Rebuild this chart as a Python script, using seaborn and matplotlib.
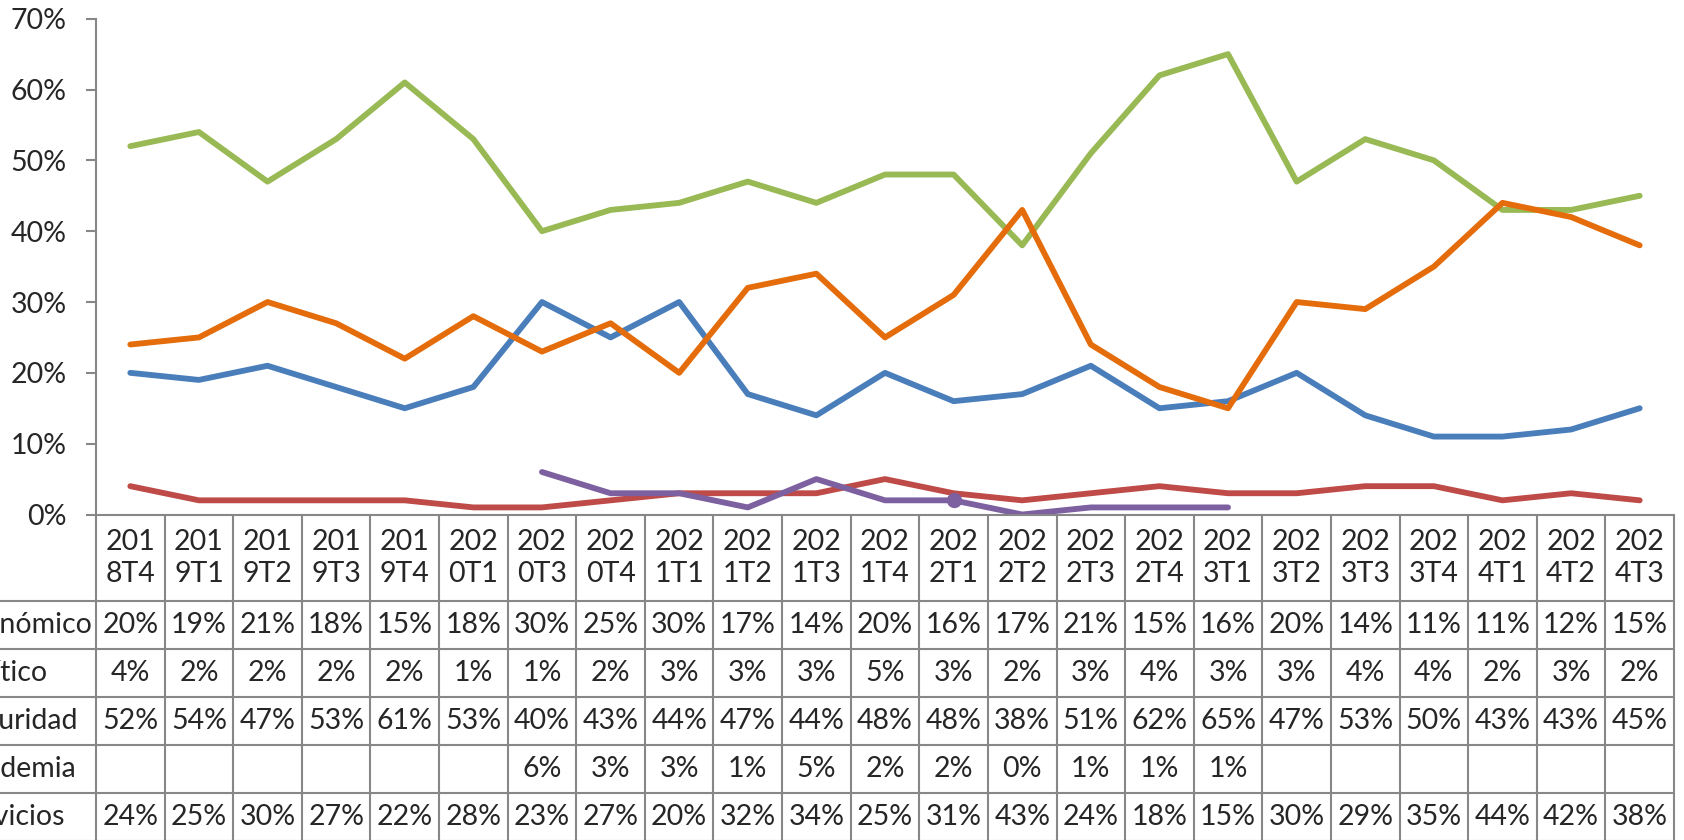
import numpy as np
import pandas as pd
import matplotlib
matplotlib.use("Agg")
import matplotlib.pyplot as plt
import matplotlib.transforms as mtransforms
from matplotlib.ticker import PercentFormatter
import seaborn as sns

#------------------data-------------------
periods = ["2018T4", "2019T1", "2019T2", "2019T3", "2019T4", "2020T1", "2020T3",
           "2020T4", "2021T1", "2021T2", "2021T3", "2021T4", "2022T1", "2022T2",
           "2022T3", "2022T4", "2023T1", "2023T2", "2023T3", "2023T4", "2024T1",
           "2024T2", "2024T3"]
economico = [20, 19, 21, 18, 15, 18, 30, 25, 30, 17, 14, 20, 16, 17, 21, 15, 16, 20, 14, 11, 11, 12, 15]
politico = [4, 2, 2, 2, 2, 1, 1, 2, 3, 3, 3, 5, 3, 2, 3, 4, 3, 3, 4, 4, 2, 3, 2]
seguridad = [52, 54, 47, 53, 61, 53, 40, 43, 44, 47, 44, 48, 48, 38, 51, 62, 65, 47, 53, 50, 43, 43, 45]
pandemia = [None] * 6 + [6, 3, 3, 1, 5, 2, 2, 0, 1, 1, 1] + [None] * 6
servicios = [24, 25, 30, 27, 22, 28, 23, 27, 20, 32, 34, 25, 31, 43, 24, 18, 15, 30, 29, 35, 44, 42, 38]

series_names = ["Económico", "Político", "Seguridad", "Pandemia", "Servicios"]
series_values = [economico, politico, seguridad, pandemia, servicios]
colors = ["#4A7EBB", "#BE4B48", "#98B954", "#7D60A0", "#E46C0A"]
marked_period = "2022T1"   # single marker on Pandemia

rows = []
for name, vals in zip(series_names, series_values):
    for i, v in enumerate(vals):
        rows.append({"idx": i, "serie": name, "valor": np.nan if v is None else v / 100})
df = pd.DataFrame(rows)

#------------------figure-------------------
W, H = 1684, 840
sns.set_style("white")
plt.rcParams["font.family"] = ["Lato", "DejaVu Sans"]
FS = 20.5
grey = "#878787"

fig = plt.figure(figsize=(W / 100, H / 100), dpi=100)
ax_l, ax_r, ax_t, ax_b = 96, 1674, 18.7, 514.5
ax = fig.add_axes([ax_l / W, 1 - ax_b / H, (ax_r - ax_l) / W, (ax_b - ax_t) / H])

sns.lineplot(data=df, x="idx", y="valor", hue="serie", hue_order=series_names,
             palette=colors, linewidth=4.2, legend=False, ax=ax, sort=False)
for ln in ax.lines:
    ln.set_solid_capstyle("round")
    ln.set_solid_joinstyle("round")

# marker on Pandemia
mi = periods.index(marked_period)
ax.plot(mi, pandemia[mi] / 100, "o", color=colors[3], markersize=10)

ax.set_xlim(-0.5, len(periods) - 0.5)
ax.set_ylim(0, 0.70)
ax.set_yticks(np.arange(0, 0.71, 0.1))
ax.yaxis.set_major_formatter(PercentFormatter(1.0, decimals=0))
ax.set_xticks([])
ax.set_xlabel("")
ax.set_ylabel("")
ax.tick_params(axis="y", length=7, width=1.5, color=grey, pad=14, labelsize=FS, left=True)
for s in ["top", "right"]:
    ax.spines[s].set_visible(False)
for s in ["left", "bottom"]:
    ax.spines[s].set_color(grey)
    ax.spines[s].set_linewidth(1.5)

#------------------data table-------------------
def fy(py):
    return 1 - py / H

tr = mtransforms.blended_transform_factory(ax.transData, fig.transFigure)
n = len(periods)
header_bottom = 601
row_h = 48
row_lines = [header_bottom + k * row_h for k in range(len(series_names) + 1)]

# vertical separators
for k in range(n + 1):
    fig.add_artist(plt.Line2D([k - 0.5, k - 0.5], [fy(ax_b), fy(H + 5)], transform=tr,
                              color=grey, lw=1.5, clip_on=False))
# horizontal separators (extend into the label column)
for yl in row_lines:
    fig.add_artist(plt.Line2D([-0.02, ax_r / W], [fy(yl), fy(yl)], transform=fig.transFigure,
                              color=grey, lw=1.5, clip_on=False))

# header labels (wrapped like the original)
for i, p in enumerate(periods):
    fig.text(i, fy((ax_b + header_bottom) / 2), p[:3] + "\n" + p[3:], transform=tr,
             ha="center", va="center", fontsize=FS, linespacing=1.3)

# series rows
for r, (name, vals) in enumerate(zip(series_names, series_values)):
    yc = fy(header_bottom + row_h * (r + 0.5))
    fig.text(-47 / W, yc, name, transform=fig.transFigure, ha="left", va="center", fontsize=FS)
    for i, v in enumerate(vals):
        if v is None:
            continue
        fig.text(i, yc, f"{v}%", transform=tr, ha="center", va="center", fontsize=FS)

fig.savefig("out.png", dpi=100)
